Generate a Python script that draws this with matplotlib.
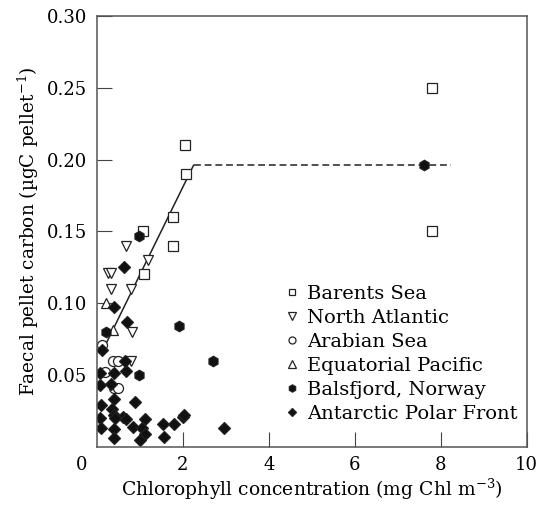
import matplotlib
matplotlib.use('Agg')
import matplotlib.pyplot as plt

plt.rcParams['font.family'] = ['DejaVu Serif']
plt.rcParams['mathtext.fontset'] = 'dejavuserif'

# Barents Sea
barents_x = [7.8, 7.8, 2.05, 2.07, 1.78, 1.78, 1.07, 1.10]
barents_y = [0.250, 0.150, 0.210, 0.190, 0.160, 0.140, 0.150, 0.120]
# North Atlantic
natl_x = [0.68, 1.18, 0.27, 0.33, 0.33, 0.80, 0.81, 0.80]
natl_y = [0.140, 0.130, 0.121, 0.121, 0.110, 0.110, 0.080, 0.060]
# Arabian Sea
arab_x = [0.12, 0.37, 0.50, 0.20, 0.39, 0.50]
arab_y = [0.071, 0.060, 0.060, 0.052, 0.041, 0.041]
# Equatorial Pacific
eqpac_x = [0.21, 0.37]
eqpac_y = [0.100, 0.081]
# Balsfjord, Norway
bals_x = [7.6, 0.98, 1.91, 0.22, 2.70, 0.99]
bals_y = [0.196, 0.147, 0.084, 0.080, 0.060, 0.050]
# Antarctic Polar Front
apf_x = [0.64, 0.40, 0.70, 0.13, 0.67, 0.65, 0.08, 0.40, 0.08, 0.33,
         0.39, 0.89, 0.09, 0.35, 0.39, 0.08, 0.62, 0.68, 0.43, 0.85,
         1.12, 1.05, 1.12, 1.00, 1.53, 1.80, 2.00, 2.03, 1.57, 2.96,
         0.10, 0.39, 0.39]
apf_y = [0.125, 0.097, 0.087, 0.067, 0.053, 0.060, 0.051, 0.051, 0.043, 0.044,
         0.033, 0.031, 0.029, 0.026, 0.022, 0.020, 0.021, 0.019, 0.020, 0.014,
         0.019, 0.013, 0.009, 0.005, 0.016, 0.016, 0.021, 0.022, 0.007, 0.013,
         0.013, 0.012, 0.006]

# fitted lines
fit_x = [0.17, 2.25]
fit_y = [0.069, 0.196]
plateau_x = [2.25, 8.25]
plateau_y = [0.196, 0.196]

fig = plt.figure(figsize=(5.5, 5.08), dpi=100)
ax = fig.add_axes([0.176, 0.1207, 0.7816, 0.8478])

ax.plot(fit_x, fit_y, color='#222', lw=1.1, zorder=1)
ax.plot(plateau_x, plateau_y, color='#222', lw=1.1, ls=(0, (4.5, 2.5)), zorder=1)

kw = dict(ls='none', markeredgecolor='#222', markeredgewidth=0.9)
ax.plot(barents_x, barents_y, marker='s', ms=6.5, mfc='white', label='Barents Sea', **kw)
ax.plot(natl_x, natl_y, marker='v', ms=7.5, mfc='white', label='North Atlantic', **kw)
ax.plot(arab_x, arab_y, marker='o', ms=7.2, mfc='white', label='Arabian Sea', **kw)
ax.plot(eqpac_x, eqpac_y, marker='^', ms=7.5, mfc='white', label='Equatorial Pacific', **kw)
ax.plot(bals_x, bals_y, marker='h', ms=7.5, mfc='#111', label='Balsfjord, Norway', **kw)
ax.plot(apf_x, apf_y, marker='D', ms=6.0, mfc='#111', label='Antarctic Polar Front', **kw)

ax.set_xlim(0, 10)
ax.set_ylim(0, 0.30)
ax.set_xticks([2, 4, 6, 8, 10])
ax.set_yticks([0.05, 0.10, 0.15, 0.20, 0.25, 0.30])
ax.set_yticklabels(['0.05', '0.10', '0.15', '0.20', '0.25', '0.30'])
ax.tick_params(direction='in', length=11, width=0.8, color='#444', labelsize=13, pad=7)
ax.annotate('0', xy=(0, 0), xycoords=('data', 'axes fraction'), xytext=(-11, -7),
            textcoords='offset points', ha='center', va='top', fontsize=13)
for s in ax.spines.values():
    s.set_color('#555')
    s.set_linewidth(1.1)

ax.set_xlabel(r'Chlorophyll concentration (mg Chl m$^{-3}$)', fontsize=13.5, labelpad=2)
ax.set_ylabel('Faecal pellet carbon (\u00b5gC pellet$^{-1}$)', fontsize=13.3, labelpad=4)

leg = ax.legend(loc='lower right', bbox_to_anchor=(0.978, 0.055), frameon=False,
                fontsize=14, markerscale=0.7, handlelength=0.6, handletextpad=0.45,
                labelspacing=0.31, borderaxespad=0, borderpad=0)

fig.savefig('out.png', dpi=100)
